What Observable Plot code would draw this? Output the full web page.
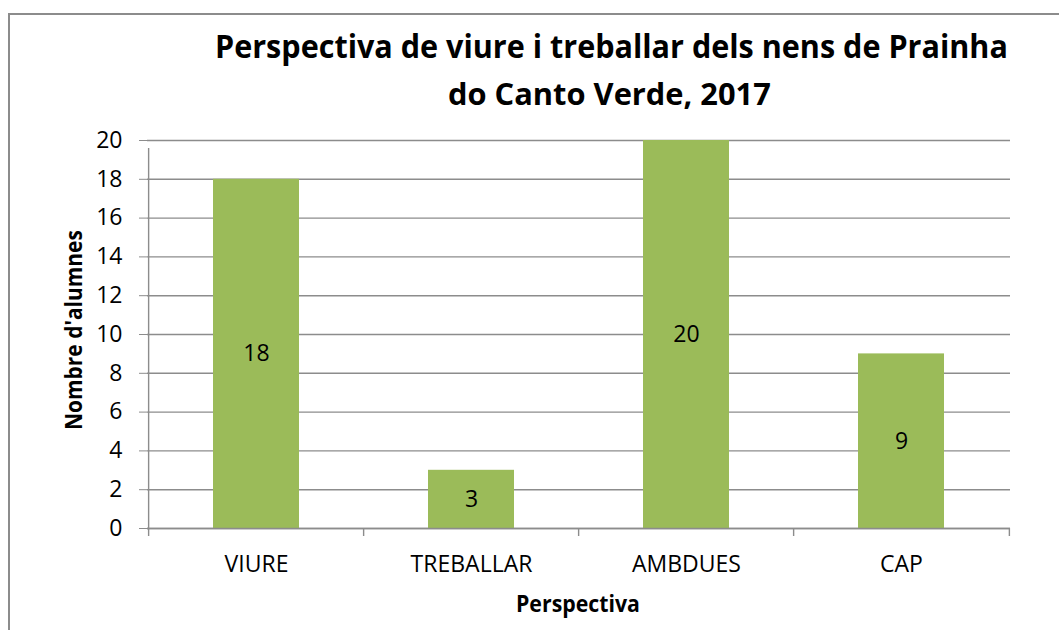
<!DOCTYPE html>
<html><head><meta charset="utf-8">
<script src="https://cdn.jsdelivr.net/npm/d3@7"></script>
<script src="https://cdn.jsdelivr.net/npm/@observablehq/plot@0.6"></script>
<style>
body{margin:0;width:1059px;height:630px;overflow:hidden;background:#fff;position:relative;font-family:"Open Sans",sans-serif}
#frame{position:absolute;left:8px;top:13px;width:1200px;height:800px;border:2px solid #8c8c8c;box-sizing:border-box}
#chart{position:absolute;left:0;top:0}
#labels{position:absolute;left:0;top:0;pointer-events:none}
</style></head><body>
<div id="frame"></div>
<div id="chart"></div>
<svg id="labels" width="1059" height="630" font-family="Open Sans" font-weight="bold" fill="#000">
  <text class="fit" data-x="215" data-y="58" data-w="793" data-r="0" font-size="33">Perspectiva de viure i treballar dels nens de Prainha</text>
  <text class="fit" data-x="448" data-y="105" data-w="323" data-r="0" font-size="31">do Canto Verde, 2017</text>
  <text class="fit" data-x="516" data-y="612" data-w="124" data-r="0" font-size="24">Perspectiva</text>
  <text class="fit" data-x="82" data-y="430" data-w="200" data-r="-90" font-size="24">Nombre d'alumnes</text>
</svg>
<script>
const categories = ["VIURE", "TREBALLAR", "AMBDUES", "CAP"];
const values = [18, 3, 20, 9];
const yTicks = [0, 2, 4, 6, 8, 10, 12, 14, 16, 18, 20];

const data = categories.map((c, i) => ({category: c, value: values[i]}));

const W = 1059, H = 630, ML = 147, MR = 49, MT = 140, MB = 102;
const step = (W - ML - MR) / categories.length;
const grey = "#8c8c8c";

const chart = Plot.plot({
  width: W, height: H,
  marginLeft: ML, marginRight: MR, marginTop: MT, marginBottom: MB,
  style: {fontFamily: "Open Sans", fontSize: "23px", color: "#000", background: "transparent"},
  x: {domain: categories, paddingInner: 0.6, paddingOuter: 0.3, label: null},
  y: {domain: [0, 20], label: null},
  marks: [
    Plot.gridY(yTicks, {stroke: grey, strokeOpacity: 1, strokeWidth: 1.4}),
    Plot.barY(data, {x: "category", y: "value", fill: "#9BBB59"}),
    Plot.ruleY([0], {stroke: grey, strokeWidth: 1.4}),
    Plot.ruleX(categories, {x: d => d, y1: 0, y2: 0, insetBottom: -8, dx: -step / 2, stroke: grey, strokeWidth: 1.4}),
    Plot.ruleX([categories[categories.length - 1]], {x: d => d, y1: 0, y2: 0, insetBottom: -8, dx: step / 2, stroke: grey, strokeWidth: 1.4}),
    Plot.ruleX([categories[0]], {x: d => d, y1: 0, y2: 20, insetBottom: -8, dx: -step / 2, stroke: grey, strokeWidth: 1.4}),
    Plot.text(data, {x: "category", y: d => d.value / 2, text: d => String(d.value), fill: "#000", fontSize: 23}),
    Plot.axisY({ticks: yTicks, tickSize: 8, tickPadding: 17, stroke: grey, fill: "#000", label: null}),
    Plot.axisX({tickSize: 0, tickPadding: 27, fill: "#000", label: null})
  ]
});
document.getElementById("chart").appendChild(chart);

// Fit each label horizontally to the reference's text width (Calibri is narrower than Open Sans)
document.querySelectorAll("#labels text.fit").forEach(t => {
  const w = t.getComputedTextLength();
  const s = (+t.dataset.w) / w;
  t.setAttribute("x", 0);
  t.setAttribute("y", 0);
  t.setAttribute("transform", `translate(${t.dataset.x},${t.dataset.y}) rotate(${t.dataset.r}) scale(${s},1)`);
});
</script>
</body></html>
